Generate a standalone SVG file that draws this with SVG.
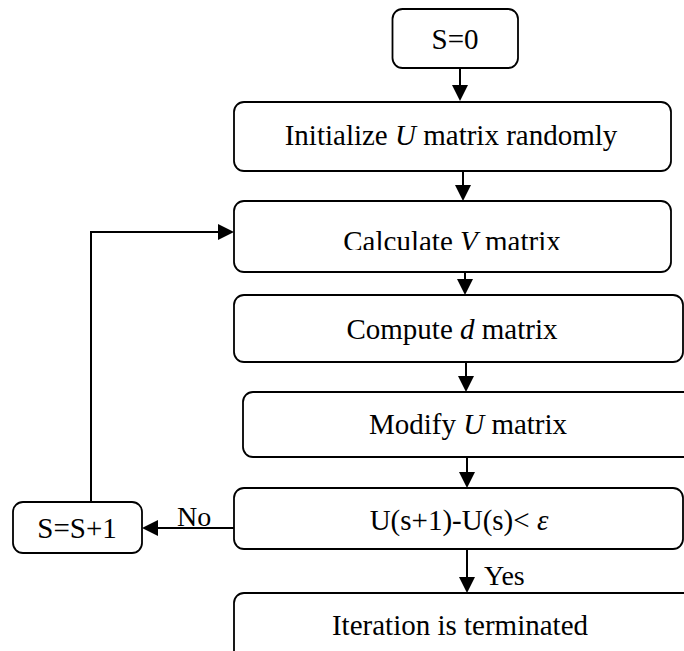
<svg xmlns="http://www.w3.org/2000/svg" width="684" height="651" viewBox="0 0 684 651">
  <style>
    .box { fill: #ffffff; stroke: #000000; stroke-width: 1.8; }
    .lbl { font-family: "Liberation Serif", "Times New Roman", serif; font-size: 29px; fill: #000000; text-anchor: middle; }
    .side { font-family: "Liberation Serif", "Times New Roman", serif; font-size: 28px; fill: #000000; }
    .it { font-style: italic; }
    .conn { fill: none; stroke: #000000; stroke-width: 2; }
  </style>
  <defs>
    <marker id="arrow" markerUnits="userSpaceOnUse" markerWidth="16" markerHeight="16" refX="14" refY="8" orient="auto">
      <path d="M0,0 L16,8 L0,16 Z" fill="#000000"/>
    </marker>
    <clipPath id="clipCalc">
      <rect x="234" y="201" width="437" height="49"/>
    </clipPath>
  </defs>
  <rect width="684" height="651" fill="#ffffff"/>

  <g id="connectors">
    <line class="conn" x1="460" y1="68" x2="460" y2="99" marker-end="url(#arrow)"/>
    <line class="conn" x1="463" y1="171" x2="463" y2="199" marker-end="url(#arrow)"/>
    <line class="conn" x1="465" y1="272" x2="465" y2="293" marker-end="url(#arrow)"/>
    <line class="conn" x1="466" y1="362" x2="466" y2="390" marker-end="url(#arrow)"/>
    <line class="conn" x1="467" y1="457" x2="467" y2="486" marker-end="url(#arrow)"/>
    <line class="conn" x1="467" y1="550" x2="467" y2="591" marker-end="url(#arrow)"/>
    <line class="conn" x1="234" y1="528" x2="144" y2="528" marker-end="url(#arrow)"/>
    <polyline class="conn" points="91,502 91,232 232,232" marker-end="url(#arrow)"/>
    <text class="side" x="484" y="585">Yes</text>
    <text class="side" x="177" y="526">No</text>
  </g>

  <g id="start">
    <rect class="box" x="392.5" y="9" width="125.5" height="59" rx="10"/>
    <text class="lbl" x="455" y="49">S=0</text>
  </g>

  <g id="init">
    <rect class="box" x="234" y="102" width="437" height="69" rx="10"/>
    <text class="lbl" x="451" y="145">Initialize <tspan class="it">U</tspan> matrix randomly</text>
  </g>

  <g id="calcV">
    <rect class="box" x="234" y="201" width="437" height="71" rx="10"/>
    <text class="lbl" x="452" y="251" clip-path="url(#clipCalc)">Calculate <tspan class="it">V</tspan> matrix</text>
  </g>

  <g id="computeD">
    <rect class="box" x="234" y="295" width="449" height="67" rx="10"/>
    <text class="lbl" x="452" y="339">Compute <tspan class="it">d</tspan> matrix</text>
  </g>

  <g id="modifyU">
    <rect class="box" x="243" y="392" width="460" height="65" rx="10"/>
    <text class="lbl" x="468" y="434">Modify <tspan class="it">U</tspan> matrix</text>
  </g>

  <g id="check">
    <rect class="box" x="234" y="488" width="449" height="61" rx="10"/>
    <text class="lbl" x="459" y="530">U(s+1)-U(s)&lt; <tspan class="it">ε</tspan></text>
  </g>

  <g id="terminate">
    <rect class="box" x="234" y="593" width="470" height="80" rx="10"/>
    <text class="lbl" x="460" y="635">Iteration is terminated</text>
  </g>

  <g id="increment">
    <rect class="box" x="13" y="502" width="129" height="51" rx="10"/>
    <text class="lbl" x="77" y="538">S=S+1</text>
  </g>
</svg>
